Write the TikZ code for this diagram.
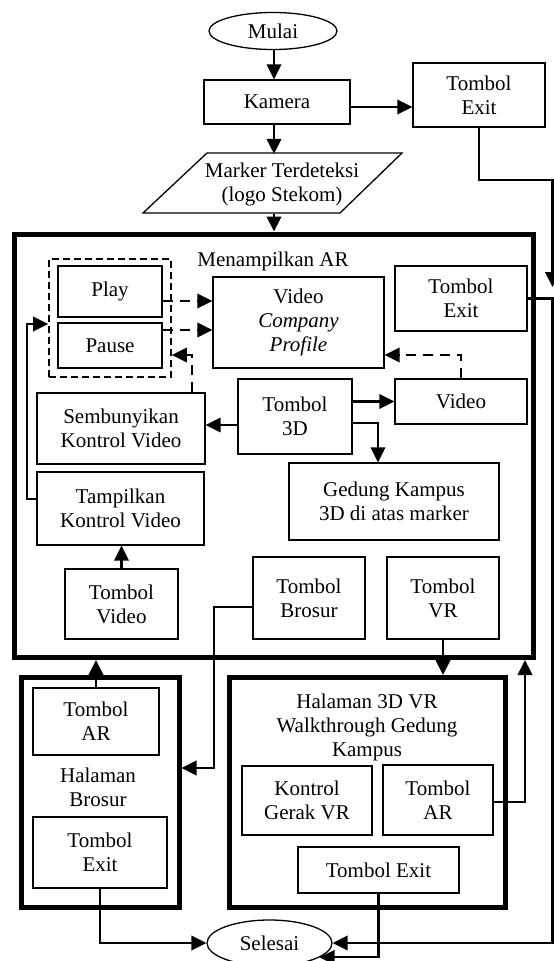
\documentclass[tikz,border=0pt]{standalone}
\usepackage{fontspec}
\setmainfont{Liberation Serif}
\usetikzlibrary{arrows.meta,shapes.geometric}

\newcommand\fs{\fontsize{21pt}{24pt}\selectfont}
% \bx[style]{name}{x1}{y1}{x2}{y2}{text}: box given by its corners
\newcommand\bx[7][box]{%
  \pgfmathsetmacro\bxcx{(#3+#5)/2}\pgfmathsetmacro\bxcy{(#4+#6)/2}%
  \pgfmathsetmacro\bxw{#5-#3}\pgfmathsetmacro\bxh{#6-#4}%
  \node[#1,minimum width=\bxw pt,minimum height=\bxh pt] (#2) at (\bxcx,\bxcy) {#7};}

\tikzset{
  box/.style={draw,line width=1.3pt,inner sep=0pt,align=center,font=\fs},
  thickframe/.style={draw,line width=5pt,inner sep=0pt},
  groupbox/.style={draw,line width=1.7pt,dash pattern=on 7pt off 4pt,inner sep=0pt},
  txt/.style={inner sep=0pt,align=center,font=\fs},
  oval/.style={draw,ellipse,line width=1.3pt,inner sep=0pt,font=\fs},
  conn/.style={line width=2.2pt,-{Triangle[length=15pt,width=14.5pt]}},
  dconn/.style={line width=2.2pt,dash pattern=on 10pt off 7pt,-{Triangle[length=15pt,width=14.5pt]}},
}

\begin{document}
\begin{tikzpicture}[x=1pt,y=-1pt]
\useasboundingbox (0,0) rectangle (554,961);

% ---- start, camera, marker
\node[oval,minimum width=128pt,minimum height=37pt] (mulai) at (273,31) {Mulai};
\bx{kamera}{204}{80}{350}{124}{Kamera}
\bx{texitA}{413}{63}{545}{127}{Tombol\\Exit}
\draw[line width=1.3pt] (207,153) -- (402,153) -- (340,213) -- (143,213) -- cycle;
\node[txt,minimum width=196pt,minimum height=60pt] (marker) at (282,184) {Marker Terdeteksi\\(logo Stekom)};

% ---- AR page
\bx[thickframe]{arbox}{14.5}{234}{533}{657.5}{}
\node[txt] (artitle) at (273,261) {Menampilkan AR};
\bx[groupbox]{group}{49}{259}{171}{377}{}
\bx{play}{58}{266}{162}{317}{Play}
\bx{pause}{58}{323}{162}{368}{Pause}
\bx{vcp}{213}{277}{384}{368}{Video\\\textit{Company}\\\textit{Profile}}
\bx{texitB}{395}{266}{527}{331}{Tombol\\Exit}
\bx{semb}{37}{393}{205}{464}{Sembunyikan\\Kontrol Video}
\bx{tdd}{238}{379}{352}{454}{Tombol\\3D}
\bx{video}{395}{379}{527}{424}{Video}
\bx{gedung}{289}{463}{499}{540}{Gedung Kampus\\3D di atas marker}
\bx{tamp}{37}{472}{204}{545}{Tampilkan\\Kontrol Video}
\bx{tvideo}{65}{569}{178}{639}{Tombol\\Video}
\bx{tbrosur}{253}{557}{365}{639}{Tombol\\Brosur}
\bx{tvr}{387}{557}{499}{639}{Tombol\\VR}

% ---- brochure page
\bx[thickframe]{brosurf}{21}{677.5}{179}{907.5}{}
\bx{bar}{33}{688}{159}{755}{Tombol\\AR}
\node[txt] (btitle) at (98,787) {Halaman\\Brosur};
\bx{bexit}{33}{817}{167}{888}{Tombol\\Exit}

% ---- VR page
\bx[thickframe]{vrf}{229.5}{677.5}{505.5}{907.5}{}
\node[txt] (vtitle) at (367,727) {Halaman 3D VR\\Walkthrough Gedung\\Kampus};
\bx{kgvr}{242}{766}{372}{835}{Kontrol\\Gerak VR}
\bx{var}{383}{765}{493}{835}{Tombol\\AR}
\bx{vexit}{298}{847}{459}{893}{Tombol Exit}

% ---- end
\node[oval,minimum width=125pt,minimum height=46pt] (selesai) at (269.5,943) {Selesai};

% ---- helper coordinates for connector routes
\coordinate (ax) at (274,0);
\coordinate (ky) at (0,107);
\coordinate (rt) at (552.5,180);
\coordinate (ra) at (552.5,287);
\coordinate (rb) at (552.5,943);
\coordinate (py) at (0,301);
\coordinate (puy) at (0,330);
\coordinate (vy) at (0,355);
\coordinate (sx) at (192,0);
\coordinate (ty) at (0,425);
\coordinate (gy) at (0,423);
\coordinate (gx) at (378,0);
\coordinate (lp1) at (27,499);
\coordinate (lp2) at (27,324);
\coordinate (b1) at (214,607);
\coordinate (b2) at (214,768);
\coordinate (v1) at (525,802);

% ---- connectors
\draw[conn] (ax |- mulai.south) -- (ax |- kamera.north);
\draw[conn] (ky -| kamera.east) -- (ky -| texitA.west);
\draw[conn] (ax |- kamera.south) -- (ax |- marker.north);
\draw[conn] (ax |- marker.south) -- (ax |- arbox.north);
\draw[conn] (texitA.south) |- (rt) -- (ra);
\draw[conn] (texitB.east) -| (rb) -- (selesai.east);

\draw[dconn] (py -| play.east) -- (py -| vcp.west);
\draw[dconn] (puy -| pause.east) -- (puy -| vcp.west);
\draw[dconn] (video.north) |- (vy -| vcp.east);
\draw[dconn] (sx |- semb.north) |- (vy -| group.east);

\draw[conn] (ty -| tdd.west) -- (ty -| semb.east);
\draw[conn] (tdd.east |- video.west) -- (video.west);
\draw[conn] (gy -| tdd.east) -| (gx |- gedung.north);
\draw[conn] (tvideo.north) -- (tvideo.north |- tamp.south);
\draw[conn] (lp1 -| tamp.west) -- (lp1) -- (lp2) -- (lp2 -| group.west);

\draw[conn] (b1 -| tbrosur.west) -- (b1) -- (b2) -- (b2 -| brosurf.east);
\draw[conn] (bar.north) -- (bar.north |- arbox.south);
\draw[conn] (tvr.south) -- (tvr.south |- vrf.north);
\draw[conn] (v1 -| var.east) -- (v1) -- (v1 |- arbox.south);
\draw[conn] (bexit.south) |- (selesai.west);
\draw[conn] (vexit.south) |- (selesai.-16);
\end{tikzpicture}
\end{document}
